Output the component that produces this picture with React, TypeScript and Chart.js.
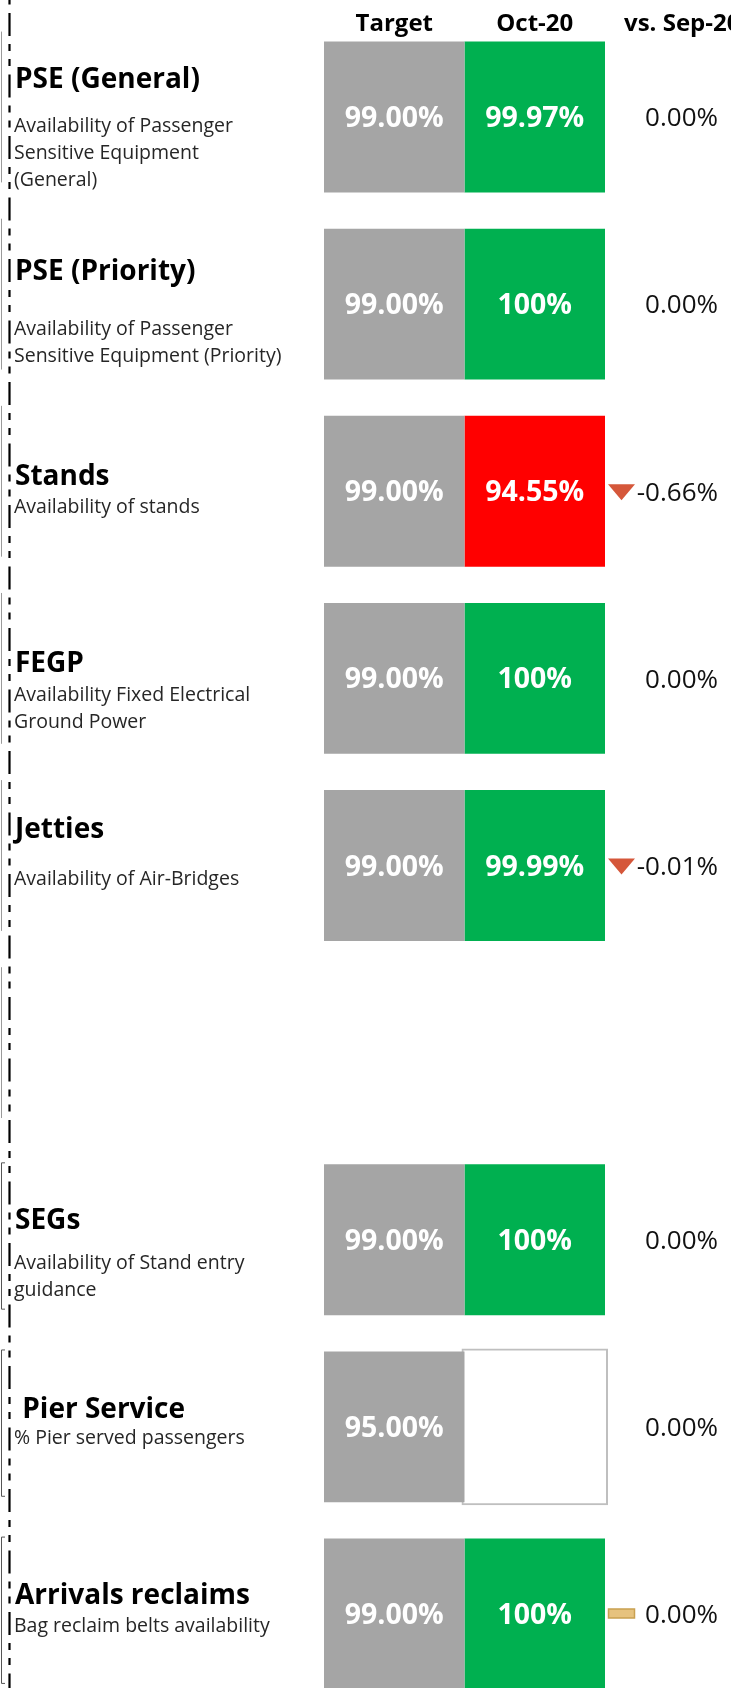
import { useEffect, useRef } from "react";
import { Chart, registerables } from "chart.js";

Chart.register(...registerables);

// ---------------- data ----------------
const categories = [
  "PSE (General)",
  "PSE (Priority)",
  "Stands",
  "FEGP",
  "Jetties",
  "",
  "SEGs",
  " Pier Service",
  "Arrivals reclaims",
];
const descriptions: string[][] = [
  ["Availability of Passenger", "Sensitive Equipment", "(General)"],
  ["Availability of Passenger", "Sensitive Equipment (Priority)"],
  ["Availability of stands"],
  ["Availability Fixed Electrical", "Ground Power"],
  ["Availability of Air-Bridges"],
  [],
  ["Availability of Stand entry", "guidance"],
  ["% Pier served passengers"],
  ["Bag reclaim belts availability"],
];
const columnLabels = ["Target", "Oct-20", "vs. Sep-20"];
const targetValues = [99, 99, 99, 99, 99, null, 99, 95, 99];
const actualValues = [99.97, 100, 94.55, 100, 99.99, null, 100, null, 100];
const changeValues = [0, 0, -0.66, 0, -0.01, null, 0, 0, 0];
const changeIndicators = ["", "", "down", "", "down", "", "", "", "flat"];

// ---------------- layout / style ----------------
const FONT = '"Open Sans", "Noto Sans", sans-serif';
const titleBaselineOffset = [46, 51, 69, 69, 48, 0, 65, 67, 65];
const descBaselineOffset = [90, 106, 97, 98, 95, 0, 105, 93, 93];
const DESC_LINE = 27;
const GRAY = "#A5A5A5";
const GREEN = "#00B050";
const RED = "#FF0000";

const rowExists = categories.map((c) => c !== "");

function fmtTarget(v: number) {
  return v.toFixed(2) + "%";
}
function fmtActual(v: number) {
  return v === 100 ? "100%" : v.toFixed(2) + "%";
}
function fmtChange(v: number) {
  return v.toFixed(2) + "%";
}

const tablePlugin = {
  id: "tableText",
  beforeDatasetsDraw(chart: any) {
    const ctx = chart.ctx as CanvasRenderingContext2D;
    const meta = chart.getDatasetMeta(0);
    ctx.save();
    // left thin brackets
    categories.forEach((_c, i) => {
      const cy = chart.scales.y.getPixelForValue(i);
      const h = meta.data[0].height;
      const top = cy - h / 2;
      const bottom = cy + h / 2;
      if (i < 6) {
        ctx.strokeStyle = "#9A9A9A";
        ctx.lineWidth = 1;
        ctx.beginPath();
        ctx.moveTo(1.5, top - 10);
        ctx.lineTo(1.5, bottom - 10);
        ctx.stroke();
      } else {
        ctx.strokeStyle = "#555";
        ctx.lineWidth = 1;
        ctx.beginPath();
        ctx.moveTo(5, top - 1.5);
        ctx.lineTo(1.5, top - 1.5);
        ctx.lineTo(1.5, bottom - 6);
        ctx.lineTo(5, bottom - 6);
        ctx.stroke();
      }
    });
    // dash-dot-dot vertical rule
    ctx.strokeStyle = "#000";
    ctx.lineWidth = 2.2;
    ctx.setLineDash([23, 8, 7, 8, 7, 8.5]);
    ctx.beginPath();
    ctx.moveTo(9.5, 13 - 61.5);
    ctx.lineTo(9.5, chart.height);
    ctx.stroke();
    ctx.setLineDash([]);
    ctx.restore();
  },
  afterDatasetsDraw(chart: any) {
    const ctx = chart.ctx as CanvasRenderingContext2D;
    const tMeta = chart.getDatasetMeta(0);
    const aMeta = chart.getDatasetMeta(1);
    ctx.save();

    // column headers
    const t0 = tMeta.data[0];
    const a0 = aMeta.data[0];
    const top0 = t0.y - t0.height / 2;
    const headY = top0 - 11;
    ctx.fillStyle = "#000";
    ctx.font = `bold 24px ${FONT}`;
    ctx.textBaseline = "alphabetic";
    ctx.textAlign = "center";
    ctx.fillText(columnLabels[0], (t0.x + t0.base) / 2, headY);
    ctx.fillText(columnLabels[1], (a0.x + a0.base) / 2, headY);
    ctx.textAlign = "left";
    ctx.fillText(columnLabels[2], Math.max(a0.x, a0.base) + 19, headY);

    categories.forEach((cat, i) => {
      if (!rowExists[i]) return;
      const t = tMeta.data[i];
      const a = aMeta.data[i];
      const cy = t.y;
      const top = cy - t.height / 2;

      // left title + description
      ctx.textAlign = "left";
      ctx.fillStyle = "#000";
      ctx.font = `bold 28px ${FONT}`;
      ctx.fillText(cat, 15, top + titleBaselineOffset[i]);
      ctx.fillStyle = "#262626";
      ctx.font = `19.5px ${FONT}`;
      descriptions[i].forEach((line, k) => {
        ctx.fillText(line, 14, top + descBaselineOffset[i] + k * DESC_LINE);
      });

      // cell values
      ctx.textAlign = "center";
      ctx.fillStyle = "#FFFFFF";
      ctx.font = `bold 28.5px ${FONT}`;
      const tv = targetValues[i];
      if (tv != null) ctx.fillText(fmtTarget(tv), (t.x + t.base) / 2, cy + 10);
      const av = actualValues[i];
      if (av != null) ctx.fillText(fmtActual(av), (a.x + a.base) / 2, cy + 10);

      // change vs previous month
      const right = Math.max(a.x, a.base);
      const cv = changeValues[i];
      if (cv != null) {
        ctx.textAlign = "right";
        ctx.fillStyle = "#111";
        ctx.font = `26px ${FONT}`;
        ctx.fillText(fmtChange(cv), right + 113, cy + 9.3);
      }
      const ind = changeIndicators[i];
      if (ind === "down") {
        ctx.fillStyle = "#D5573A";
        ctx.beginPath();
        ctx.moveTo(right + 3, cy - 7);
        ctx.lineTo(right + 30, cy - 7);
        ctx.lineTo(right + 16.5, cy + 9);
        ctx.closePath();
        ctx.fill();
      } else if (ind === "flat") {
        ctx.fillStyle = "#E6C27E";
        ctx.strokeStyle = "#C9A050";
        ctx.lineWidth = 1.5;
        ctx.fillRect(right + 3.5, cy - 5, 26, 9);
        ctx.strokeRect(right + 3.5, cy - 5, 26, 9);
      }
    });
    ctx.restore();
  },
};

export default function App() {
  const ref = useRef<HTMLCanvasElement>(null);
  useEffect(() => {
    const cellData = rowExists.map((r) => (r ? 1 : null));
    const actualColors = actualValues.map((v, i) =>
      v == null ? "#FFFFFF" : v >= (targetValues[i] as number) ? GREEN : RED
    );
    const chart = new Chart(ref.current as HTMLCanvasElement, {
      type: "bar",
      data: {
        labels: categories,
        datasets: [
          {
            label: columnLabels[0],
            data: cellData,
            backgroundColor: GRAY,
            borderWidth: 0,
          },
          {
            label: columnLabels[1],
            data: cellData,
            backgroundColor: actualColors,
            borderColor: "#BFBFBF",
            borderWidth: actualValues.map((v, i) => (v == null && rowExists[i] ? 2 : 0)),
            borderSkipped: false,
            clip: false,
            inflateAmount: actualValues.map((v, i) => (v == null && rowExists[i] ? 3 : "auto")) as any,
          },
        ],
      },
      options: {
        indexAxis: "y",
        responsive: false,
        maintainAspectRatio: false,
        animation: false,
        devicePixelRatio: 1,
        datasets: {
          bar: { barPercentage: 1, categoryPercentage: 0.806 },
        },
        layout: { padding: { left: 324, right: 126, top: 23.44, bottom: 0.44 } },
        scales: {
          x: { type: "linear", min: 0, max: 2, stacked: true, display: false },
          y: { type: "category", stacked: true, display: false, offset: true },
        },
        plugins: {
          legend: { display: false },
          tooltip: { enabled: false },
        },
      } as any,
      plugins: [tablePlugin],
    });
    return () => chart.destroy();
  }, []);
  return (
    <div
      style={{
        position: "absolute",
        left: 0,
        top: 0,
        width: 731,
        height: 1688,
        overflow: "hidden",
        background: "#FFFFFF",
      }}
    >
      <canvas ref={ref} width={731} height={1708} style={{ display: "block", width: 731, height: 1708 }} />
    </div>
  );
}
